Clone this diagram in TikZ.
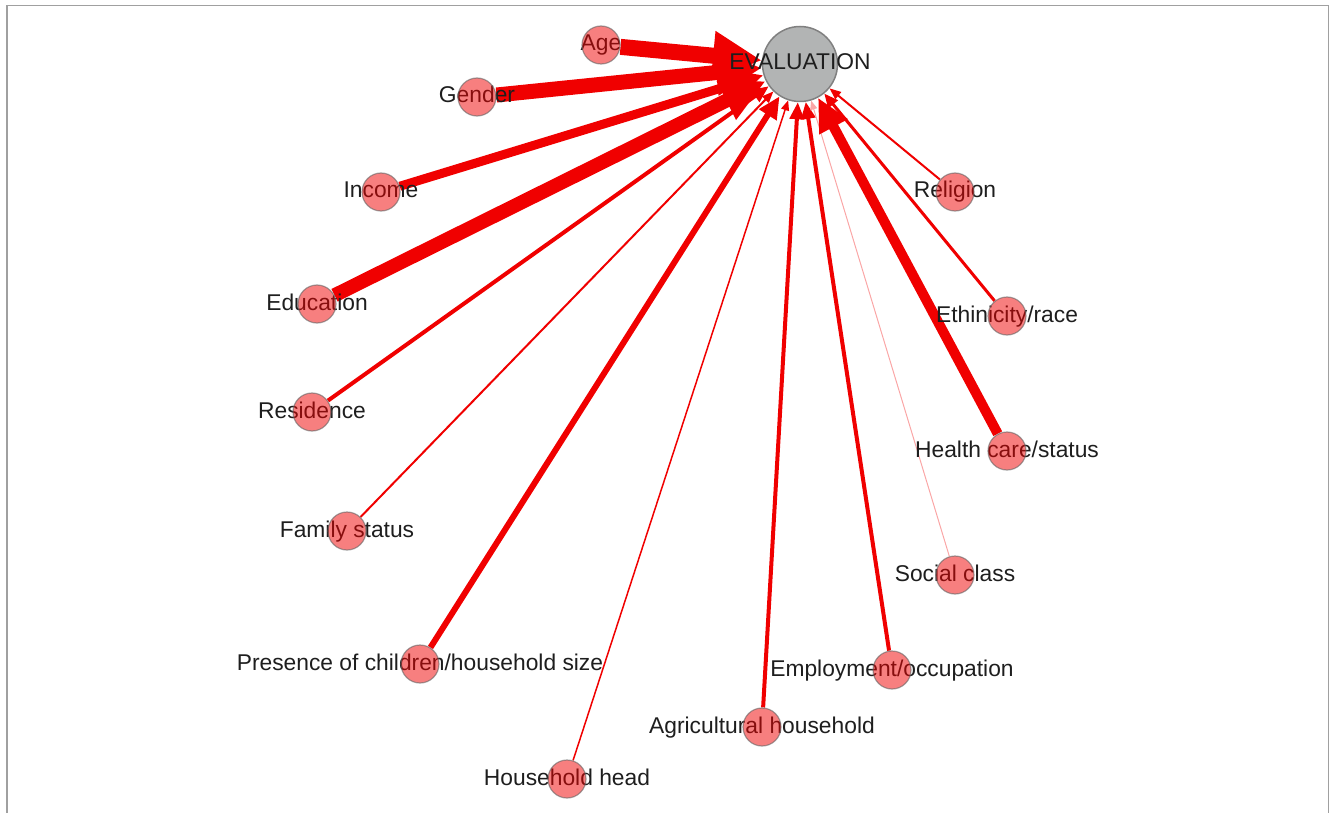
\documentclass[tikz,border=0pt]{standalone}
\usepackage{fontspec}
\setmainfont{Liberation Sans}
\usetikzlibrary{arrows.meta}
\definecolor{edgered}{RGB}{240,0,0}
\definecolor{nodefill}{RGB}{240,0,0}
\definecolor{evfill}{RGB}{178,180,180}
\definecolor{txt}{RGB}{30,30,30}
\definecolor{framegray}{RGB}{160,160,160}
\pgfdeclarelayer{edges}
\pgfdeclarelayer{labels}
\pgfdeclarelayer{top}
\pgfsetlayers{edges,labels,main,top}
\begin{document}
\begin{tikzpicture}[x=1pt,y=-1pt,
  dot/.style={circle, minimum size=38pt, inner sep=0pt, fill=nodefill, fill opacity=0.5, draw=black!60, draw opacity=0.6, line width=1.2pt},
  evdot/.style={circle, minimum size=75pt, inner sep=0pt, fill=evfill, draw=black!50, line width=1.5pt},
  lab/.style={anchor=base, text=txt, font=\fontsize{22.8}{27}\selectfont, inner sep=0pt},
  ed/.style n args={3}{draw=edgered, line width=#1pt, -{Triangle[length=#2pt, width=#3pt]}}
]
\useasboundingbox (0,0) rectangle (1330,813);
\draw[framegray, line width=1.8pt] (7,813) -- (7,5.5) -- (1328.5,5.5) -- (1328.5,813);

% circles
\node[evdot] (ev) at (800,64) {};
\node[dot] (age) at (601,45) {};
\node[dot] (gen) at (477,97) {};
\node[dot] (inc) at (381,192) {};
\node[dot] (edu) at (317,304) {};
\node[dot] (res) at (312,412) {};
\node[dot] (fam) at (347,531) {};
\node[dot] (pre) at (420,664) {};
\node[dot] (hh) at (567,779) {};
\node[dot] (agr) at (762,727) {};
\node[dot] (emp) at (892,670) {};
\node[dot] (soc) at (955,575) {};
\node[dot] (hea) at (1007,451) {};
\node[dot] (eth) at (1007,316) {};
\node[dot] (rel) at (955,192) {};

% labels
\begin{pgfonlayer}{labels}
\node[lab] (ageL) at (601,51) {Age};
\node[lab] (genL) at (477,103) {Gender};
\node[lab] (incL) at (381,198) {Income};
\node[lab] (eduL) at (317,310) {Education};
\node[lab] (resL) at (312,418) {Residence};
\node[lab] (famL) at (347,537) {Family status};
\node[lab] (preL) at (420,670) {Presence of children/household size};
\node[lab] (hhL) at (567,785) {Household head};
\node[lab] (agrL) at (762,733) {Agricultural household};
\node[lab] (empL) at (892,676) {Employment/occupation};
\node[lab] (socL) at (955,581) {Social class};
\node[lab] (heaL) at (1007,457) {Health care/status};
\node[lab] (ethL) at (1007,322) {Ethinicity/race};
\node[lab] (relL) at (955,198) {Religion};
\end{pgfonlayer}
\begin{pgfonlayer}{top}
\node[lab] (evL) at (800,70) {EVALUATION};
\end{pgfonlayer}

% edges
\begin{pgfonlayer}{edges}
\draw[ed={16}{49}{46}] (age) -- (ev);
\draw[ed={15}{46}{43}] (gen) -- (ev);
\draw[ed={9}{30}{27}] (inc) -- (ev);
\draw[ed={14}{44}{40}] (edu) -- (ev);
\draw[ed={4}{17}{14}] (res) -- (ev);
\draw[ed={2}{11.5}{9}] (fam) -- (ev);
\draw[ed={6}{22}{19.5}] (pre) -- (ev);
\draw[ed={1.5}{10}{8}] (hh) -- (ev);
\draw[ed={4}{17}{14}] (agr) -- (ev);
\draw[ed={4}{17}{14}] (emp) -- (ev);
\draw[ed={1}{9}{7}, draw=edgered!35] (soc) -- (ev);
\draw[ed={10}{33}{30}] (hea) -- (ev);
\draw[ed={3}{14}{12}] (eth) -- (ev);
\draw[ed={2}{11.5}{9}] (rel) -- (ev);
\end{pgfonlayer}
\end{tikzpicture}
\end{document}
